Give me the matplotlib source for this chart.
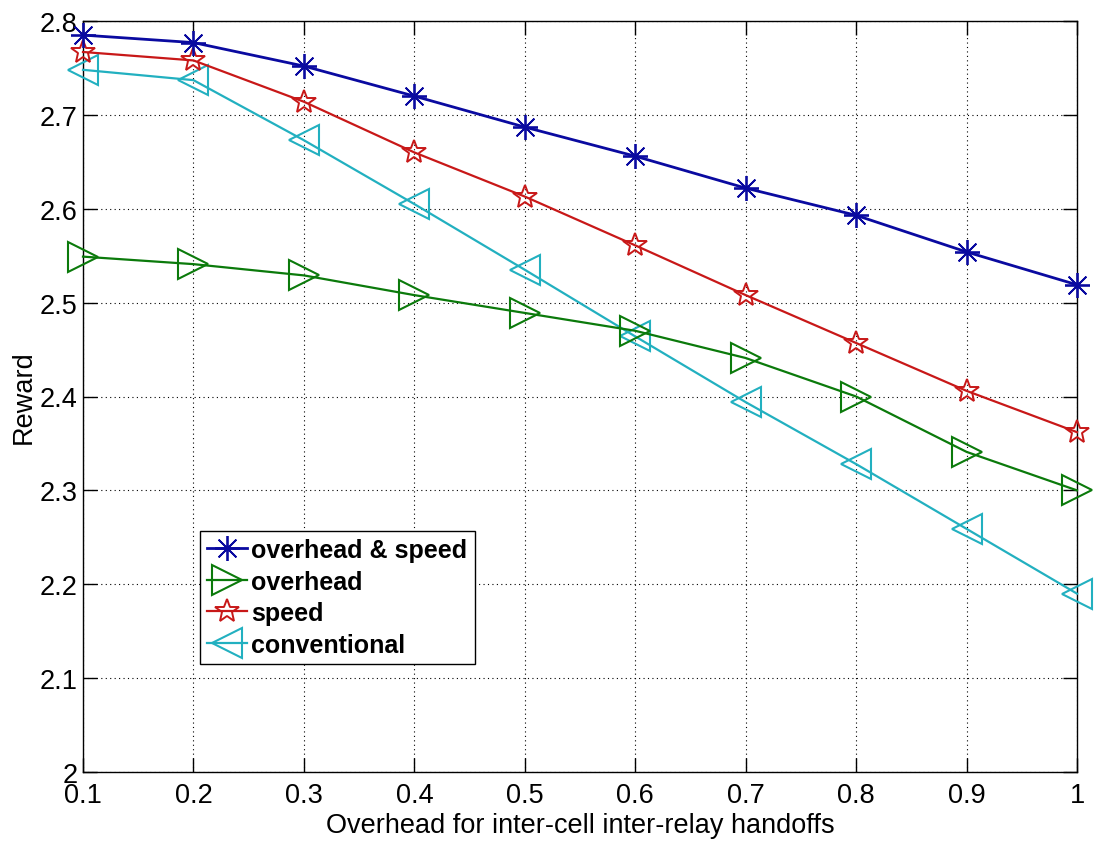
import matplotlib
matplotlib.use("Agg")
import matplotlib.pyplot as plt

x = [0.1, 0.2, 0.3, 0.4, 0.5, 0.6, 0.7, 0.8, 0.9, 1.0]
overhead_speed = [2.785, 2.777, 2.752, 2.720, 2.687, 2.656, 2.622, 2.593, 2.554, 2.519]
overhead = [2.549, 2.541, 2.529, 2.508, 2.489, 2.470, 2.441, 2.400, 2.341, 2.300]
speed = [2.767, 2.758, 2.714, 2.660, 2.613, 2.561, 2.508, 2.457, 2.406, 2.362]
conventional = [2.748, 2.737, 2.673, 2.605, 2.535, 2.464, 2.394, 2.328, 2.259, 2.190]

xticks = [0.1, 0.2, 0.3, 0.4, 0.5, 0.6, 0.7, 0.8, 0.9, 1.0]
xticklabels = ["0.1", "0.2", "0.3", "0.4", "0.5", "0.6", "0.7", "0.8", "0.9", "1"]
yticks = [2.0, 2.1, 2.2, 2.3, 2.4, 2.5, 2.6, 2.7, 2.8]
yticklabels = ["2", "2.1", "2.2", "2.3", "2.4", "2.5", "2.6", "2.7", "2.8"]

plt.rcParams['font.family'] = ['Liberation Sans', 'DejaVu Sans']

fig = plt.figure(figsize=(11.15, 8.53), dpi=100)
ax = fig.add_axes([83/1115, 80/853, (1077-83)/1115, (773-22)/853])

common = dict(clip_on=False, markerfacecolor='none')
ax.plot(x, overhead_speed, color='#0a0aa0', lw=2.0, marker=(8, 2, 0),
        markersize=18, markeredgewidth=1.3, label='overhead & speed', zorder=5,
        clip_on=False)
ax.plot(x, overhead, color='#0b7a0b', lw=1.6, marker='>', markersize=21,
        markeredgewidth=1.5, label='overhead', zorder=4, **common)
ax.plot(x, speed, color='#c81818', lw=1.6, marker='*', markersize=18,
        markeredgewidth=1.4, label='speed', zorder=4, **common)
ax.plot(x, conventional, color='#22b0c0', lw=1.6, marker='<', markersize=21,
        markeredgewidth=1.5, label='conventional', zorder=3, **common)

ax.set_xlim(0.1, 1.0)
ax.set_ylim(2.0, 2.8)
ax.set_xticks(xticks)
ax.set_xticklabels(xticklabels)
ax.set_yticks(yticks)
ax.set_yticklabels(yticklabels)
ax.tick_params(direction='in', length=10, width=1, top=True, right=True,
               labelsize=19.5)
ax.tick_params(axis='x', pad=7)
ax.tick_params(axis='y', pad=4)
ax.grid(True, color='black', linestyle=(0, (1, 3)), linewidth=0.8)
for s in ax.spines.values():
    s.set_linewidth(1.0)

ax.set_xlabel('Overhead for inter-cell inter-relay handoffs', fontsize=19.5, labelpad=3)
ax.set_ylabel('Reward', fontsize=19.5, labelpad=2)

leg = ax.legend(loc='lower left', bbox_to_anchor=(0.1177, 0.1438),
                prop={'weight': 'bold', 'size': 18}, fancybox=False,
                edgecolor='black', framealpha=1, handlelength=1.6,
                handletextpad=0.15, borderpad=0.3, labelspacing=0.3,
                borderaxespad=0)
leg.get_frame().set_linewidth(1.0)

fig.savefig('out.png', dpi=100)
